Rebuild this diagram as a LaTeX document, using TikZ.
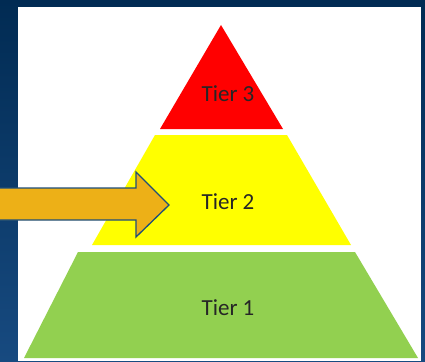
\documentclass[tikz,border=0pt]{standalone}
\usepackage{fontspec}
\setmainfont{Carlito}
\definecolor{bgtop}{HTML}{012B53}
\definecolor{bgbot}{HTML}{174A80}
\definecolor{tred}{HTML}{FF0000}
\definecolor{tyellow}{HTML}{FFFF00}
\definecolor{tgreen}{HTML}{92D050}
\definecolor{arrowfill}{HTML}{EDB017}
\definecolor{arrowline}{HTML}{1F4E79}
\definecolor{txt}{HTML}{262626}
\tikzset{
  tierlabel/.style={font=\fontsize{23}{26}\selectfont, text=txt, inner sep=0pt},
}
\begin{document}
\begin{tikzpicture}[x=1pt,y=-1pt]
\useasboundingbox (0,0) rectangle (425,361);
\shade[top color=bgtop, bottom color=bgbot] (0,0) rectangle (425,361);
\fill[white] (18,7) rectangle (421,361);
% tiers
\fill[tred] (221,25) -- (283,129) -- (160,129) -- cycle;
\fill[tyellow] (155,135) -- (287,135) -- (351,245) -- (92,245) -- cycle;
\fill[tgreen] (78,252) -- (355,252) -- (418,358) -- (24,358) -- cycle;
\node[tierlabel] (t3) at (228,94) {Tier 3};
\node[tierlabel] (t2) at (228,202) {Tier 2};
\node[tierlabel] (t1) at (228,308) {Tier 1};
% arrow
\draw[fill=arrowfill, draw=arrowline, line width=1.3pt, line join=miter]
  (-3,188) -- (136,188) -- (136,172) -- (169,205) -- (136,237) -- (136,220) -- (-3,220) -- cycle;
\end{tikzpicture}
\end{document}
